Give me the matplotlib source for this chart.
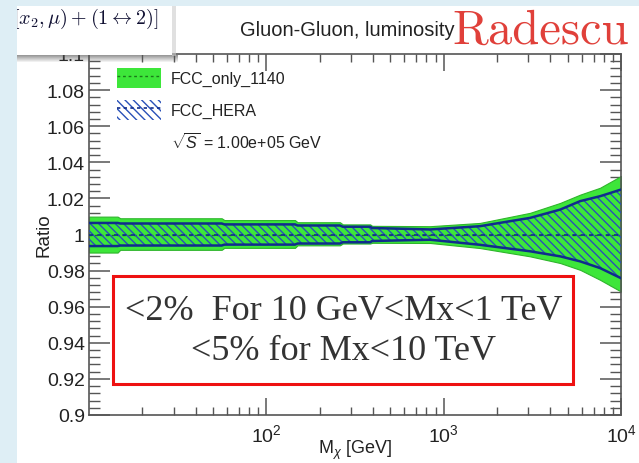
import matplotlib
matplotlib.use("Agg")
import matplotlib.pyplot as plt
from matplotlib.patches import Rectangle, Patch
from matplotlib.lines import Line2D
from matplotlib.ticker import FixedLocator, MultipleLocator, LogLocator, NullFormatter
import numpy as np

plt.rcParams['font.family'] = ['Liberation Sans', 'DejaVu Sans']
plt.rcParams['mathtext.fontset'] = 'custom'
plt.rcParams['mathtext.rm'] = 'Liberation Sans'
plt.rcParams['mathtext.it'] = 'Liberation Sans:italic'
plt.rcParams['hatch.linewidth'] = 1.0

# Gluon-gluon luminosity ratio bands vs. invariant mass
mass = [10, 14.5, 15, 56, 58, 145, 150, 260, 270, 385, 395, 840,
        1600, 3070, 4540, 5890, 7620, 10000]
fcc_only_up = [1.0099, 1.0099, 1.0090, 1.0090, 1.0080, 1.0080, 1.0068, 1.0068,
               1.0056, 1.0056, 1.0048, 1.0046, 1.0064, 1.0120, 1.0175, 1.0221,
               1.0259, 1.0324]
fcc_only_lo = [0.9900, 0.9900, 0.9915, 0.9915, 0.9926, 0.9926, 0.9940, 0.9940,
               0.9950, 0.9950, 0.9954, 0.9953, 0.9925, 0.9879, 0.9842, 0.9804,
               0.9749, 0.9684]
fcc_hera_up = [1.0064, 1.0064, 1.0061, 1.0061, 1.0056, 1.0056, 1.0050, 1.0050,
               1.0043, 1.0043, 1.0036, 1.0028, 1.0046, 1.0092, 1.0138, 1.0185,
               1.0212, 1.0249]
fcc_hera_lo = [0.9936, 0.9936, 0.9939, 0.9939, 0.9944, 0.9944, 0.9950, 0.9950,
               0.9957, 0.9957, 0.9964, 0.9971, 0.9943, 0.9907, 0.9879, 0.9851,
               0.9814, 0.9758]
central = [1.0] * len(mass)

series_labels = ["FCC_only_1140", "FCC_HERA", r"$\sqrt{S}$ = 1.00e+05 GeV"]
y_ticks = [0.9, 0.92, 0.94, 0.96, 0.98, 1.0, 1.02, 1.04, 1.06, 1.08, 1.1]
y_tick_labels = ["0.9", "0.92", "0.94", "0.96", "0.98", "1", "1.02", "1.04",
                 "1.06", "1.08", "1.1"]
x_ticks = [1e2, 1e3, 1e4]
x_tick_labels = [r"$10^{2}$", r"$10^{3}$", r"$10^{4}$"]

GREEN = "#3de63a"
GREEN_EDGE = "#2fb52c"
NAVY = "#102c8c"
HATCH = "#2850b8"
BG = "#deeef5"

W, H = 639, 464
fig = plt.figure(figsize=(W / 100, H / 100), dpi=100)
fig.patch.set_facecolor("white")

def px_rect(x0, y0, x1, y1, **kw):
    """Rectangle given in pixel coordinates measured from the top-left."""
    r = Rectangle((x0 / W, 1 - y1 / H), (x1 - x0) / W, (y1 - y0) / H,
                  transform=fig.transFigure, **kw)
    fig.add_artist(r)
    return r

# slide background strips
px_rect(0, 0, W, 7, facecolor=BG, edgecolor="none", zorder=0)
px_rect(0, 0, 17, H, facecolor=BG, edgecolor="none", zorder=0)

ax = fig.add_axes([89 / W, 1 - 416 / H, 532 / W, 361 / H])
ax.set_xscale("log")
ax.set_xlim(10, 1e4)
ax.set_ylim(0.9, 1.1)

# FCC only band
ax.fill_between(mass, fcc_only_lo, fcc_only_up, facecolor=GREEN,
                edgecolor=GREEN_EDGE, linewidth=0.8, zorder=2)
ax.plot(mass, central, color="#1a7a1a", linestyle=(0, (2, 2)), linewidth=1.0, zorder=3)
# FCC + HERA band (hatched)
ax.fill_between(mass, fcc_hera_lo, fcc_hera_up, facecolor="none",
                edgecolor=HATCH, hatch="\\\\\\\\", linewidth=0, zorder=4)
ax.plot(mass, fcc_hera_up, color=NAVY, linewidth=1.8, zorder=5)
ax.plot(mass, fcc_hera_lo, color=NAVY, linewidth=1.8, zorder=5)
ax.plot(mass, central, color=NAVY, linestyle=(0, (2.5, 2.5)), linewidth=1.2, zorder=6)

# axes styling (inward ticks on all sides)
for s in ax.spines.values():
    s.set_color("#555555")
    s.set_linewidth(1.2)
ax.yaxis.set_major_locator(FixedLocator(y_ticks))
ax.set_yticklabels(y_tick_labels)
ax.yaxis.set_minor_locator(MultipleLocator(0.004))
ax.xaxis.set_major_locator(FixedLocator(x_ticks))
ax.set_xticklabels(x_tick_labels)
ax.xaxis.set_minor_locator(LogLocator(base=10, subs=np.arange(2, 10)))
ax.xaxis.set_minor_formatter(NullFormatter())
ax.tick_params(which="both", direction="in", top=True, right=True,
               color="#555555", labelcolor="#222222", labelsize=14)
ax.tick_params(axis="y", which="major", length=15, width=1.1, pad=3)
ax.tick_params(axis="y", which="minor", length=8, width=1.0)
ax.tick_params(axis="x", which="major", length=12, width=1.1, pad=6)
ax.tick_params(axis="x", which="minor", length=6, width=1.0)

ax.text(0.5, -0.094, r"M$_{\chi}$ [GeV]", transform=ax.transAxes,
        ha="center", va="center", fontsize=13, color="#222222")
ax.text(-0.085, 0.50, "Ratio", transform=ax.transAxes, rotation=90,
        ha="center", va="center", fontsize=13.5, color="#222222")

# legend
h_only = (Patch(facecolor=GREEN, edgecolor="none"),
          Line2D([], [], color="#1a7a1a", linestyle=(0, (2, 2)), linewidth=1.0))
h_hera = (Patch(facecolor="white", edgecolor=HATCH, hatch="\\\\\\\\", linewidth=0),
          Line2D([], [], color=NAVY, linestyle=(0, (2, 2)), linewidth=1.2))
h_none = Patch(facecolor="none", edgecolor="none")
leg = ax.legend([h_only, h_hera, h_none], series_labels,
                loc="upper left", bbox_to_anchor=(0.053, 0.961), frameon=False,
                fontsize=11.5, handlelength=2.75, handleheight=1.55,
                labelspacing=0.75, handletextpad=0.6, borderpad=0,
                borderaxespad=0)
for t in leg.get_texts():
    t.set_color("#222222")

# summary box
ax.add_patch(Rectangle((0.0451, 0.0859), 0.8647, 0.299, transform=ax.transAxes,
                       facecolor="white", edgecolor="#ee1111", linewidth=2.2,
                       zorder=7))
serif = ["Liberation Serif", "DejaVu Serif"]
ax.text(0.478, 0.29, "<2%  For 10 GeV<Mx<1 TeV", transform=ax.transAxes,
        ha="center", va="center", fontsize=26, color="#333333",
        family=serif, zorder=8)
ax.text(0.478, 0.18, "<5% for Mx<10 TeV", transform=ax.transAxes,
        ha="center", va="center", fontsize=26, color="#333333",
        family=serif, zorder=8)

# title and author tag
fig.text(240 / W, 1 - 30 / H, "Gluon-Gluon, luminosity", ha="left", va="center",
         fontsize=14.5, color="#222222", zorder=10)
fig.text(452 / W, 1 - 44 / H, "Radescu", ha="left", va="baseline",
         fontsize=35, color="#e0403a", family=["cmr10", "DejaVu Serif"], zorder=11)

# overlapping formula card with its drop shadow
for i, a in enumerate(np.linspace(0.6, 0.0, 8)):
    px_rect(17, 56 + i, 178, 57 + i, facecolor="#555555", edgecolor="none",
            alpha=a, zorder=20)
px_rect(172, 7, 176, 57, facecolor="#cccccc", edgecolor="none", alpha=0.6, zorder=20)
card = px_rect(17, 7, 172, 56, facecolor="white", edgecolor="none", zorder=21)
ft = fig.text(13 / W, 1 - 19 / H, r"$[x_2,\mu)+(1\leftrightarrow 2)]$", ha="left",
              va="center", fontsize=14.5, color="#111133", zorder=22,
              math_fontfamily="cm")
ft.set_clip_path(card)

fig.savefig("out.png", dpi=100, facecolor=fig.get_facecolor())
